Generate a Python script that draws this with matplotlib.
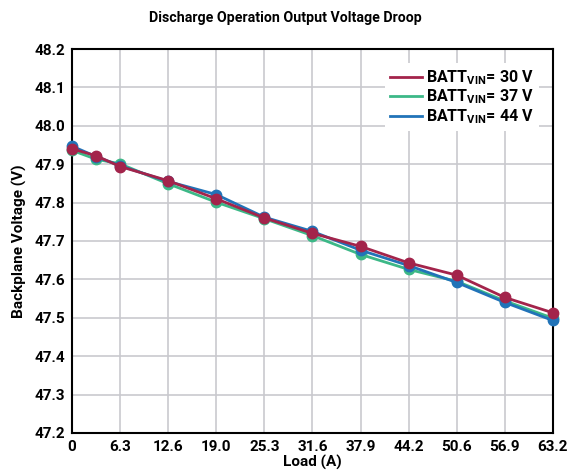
import matplotlib
matplotlib.use("Agg")
import matplotlib.pyplot as plt
import numpy as np

# Load current (A) and measured backplane voltage (V) for each battery input
load = [0, 3.16, 6.32, 12.64, 18.96, 25.28, 31.6, 37.92, 44.24, 50.56, 56.88, 63.2]
v_30 = [47.940, 47.922, 47.894, 47.857, 47.810, 47.760, 47.720, 47.686, 47.643, 47.611, 47.553, 47.513]
v_37 = [47.936, 47.913, 47.901, 47.849, 47.801, 47.758, 47.714, 47.665, 47.626, 47.595, 47.544, 47.499]
v_44 = [47.947, 47.920, 47.896, 47.855, 47.821, 47.762, 47.725, 47.676, 47.636, 47.592, 47.540, 47.493]

xticks = [0, 6.32, 12.64, 18.96, 25.28, 31.6, 37.92, 44.24, 50.56, 56.88, 63.2]
xtick_labels = ["0", "6.3", "12.6", "19.0", "25.3", "31.6", "37.9", "44.2", "50.6", "56.9", "63.2"]
yticks = [47.2, 47.3, 47.4, 47.5, 47.6, 47.7, 47.8, 47.9, 48.0, 48.1, 48.2]

W = "bold"
plt.rcParams["font.family"] = ["Roboto", "DejaVu Sans"]
plt.rcParams["font.weight"] = W
plt.rcParams["mathtext.fontset"] = "custom"
plt.rcParams["mathtext.rm"] = "Roboto:bold"
plt.rcParams["mathtext.it"] = "Roboto:bold"
plt.rcParams["mathtext.bf"] = "Roboto:bold"

fig = plt.figure(figsize=(5.7, 4.73), dpi=100)
ax = fig.add_axes([0.1263, 0.0846, 0.8437, 0.8118])

red = "#A3244B"
green = "#3CB887"
blue = "#2173B8"

series = [
    (v_37, green, r"BATT$_{\mathrm{VIN}}$= 37 V"),
    (v_44, blue, r"BATT$_{\mathrm{VIN}}$= 44 V"),
    (v_30, red, r"BATT$_{\mathrm{VIN}}$= 30 V"),
]
handles = {}
for vals, col, lab in series:
    h, = ax.plot(load, vals, color=col, lw=2.0, marker="o", ms=7.5,
                 label=lab, clip_on=False, zorder=3)
    handles[lab] = h

ax.set_xlim(0, 63.2)
ax.set_ylim(47.2, 48.2)
ax.set_xticks(xticks)
ax.set_xticklabels(xtick_labels)
ax.set_yticks(yticks)
ax.set_yticklabels([f"{v:.1f}" for v in yticks])
ax.tick_params(length=0, labelsize=11, pad=5)
for lbl in ax.get_xticklabels() + ax.get_yticklabels():
    lbl.set_fontweight(W)

ax.grid(True, color="#C9C9CE", lw=1.2)
ax.set_axisbelow(True)
for s in ax.spines.values():
    s.set_color("black")
    s.set_linewidth(1.5)

ax.set_xlabel("Load (A)", fontsize=11, fontweight=W, labelpad=1)
ax.set_ylabel("Backplane Voltage (V)", fontsize=11, fontweight=W, labelpad=5)
fig.text(0.5, 0.962, "Discharge Operation Output Voltage Droop",
         ha="center", va="center", fontsize=10.2, fontweight=W)

order = [series[2][2], series[0][2], series[1][2]]
leg = ax.legend([handles[k] for k in order], order, loc="upper right",
                frameon=True, fancybox=False, framealpha=1.0, edgecolor="none",
                fontsize=11.5, handlelength=2.0, handletextpad=0.25,
                labelspacing=0.05, borderpad=0.3, borderaxespad=0.9)
for h in leg.legend_handles:
    h.set_marker("")
for t in leg.get_texts():
    t.set_fontweight(W)

fig.savefig("out.png", dpi=100)
